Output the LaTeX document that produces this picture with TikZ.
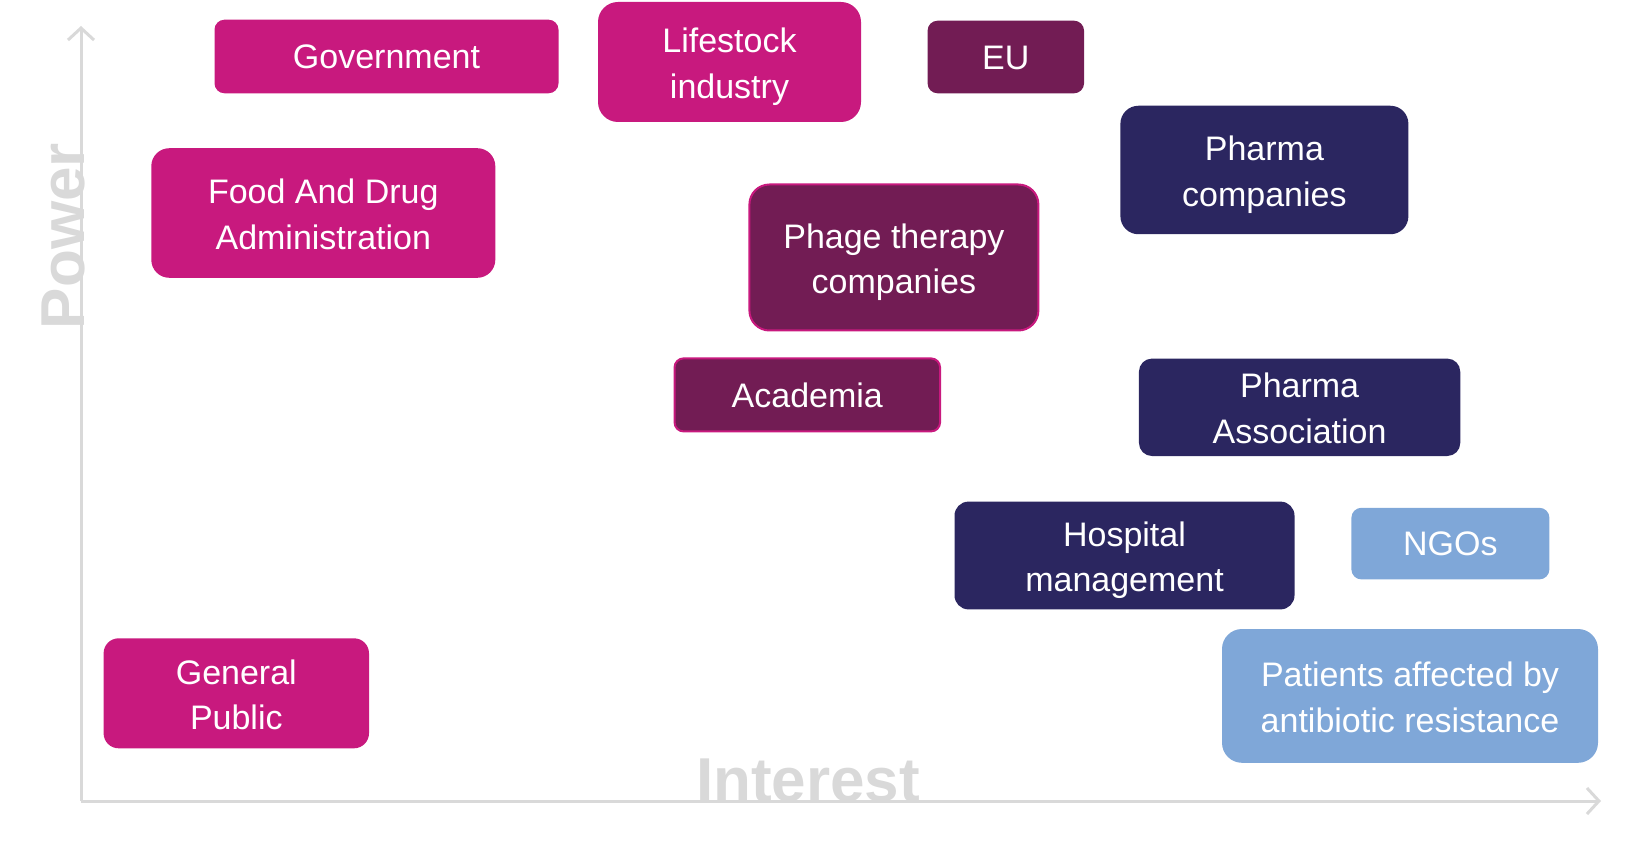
\documentclass[tikz,border=0pt]{standalone}
\usepackage{fontspec}
\setmainfont{Liberation Sans}
\usetikzlibrary{arrows.meta}
\definecolor{mag}{HTML}{C8197E}
\definecolor{plum}{HTML}{721C54}
\definecolor{navy}{HTML}{2B2660}
\definecolor{lblue}{HTML}{7FA7D8}
\definecolor{axisgray}{HTML}{D9D9D9}
\newcommand\bxone{\rule[-9.4pt]{0pt}{43.4pt}}
\newcommand\bxtop{\rule{0pt}{34pt}}
\newcommand\bxbot{\rule[-7pt]{0pt}{7pt}}
\tikzset{
  box/.style={text=white, align=center, inner sep=0pt,
    font=\fontsize{34}{45.6}\selectfont},
  magbox/.style={box, fill=mag},
  plumbox/.style={box, fill=plum},
  plumborder/.style={box, fill=plum, draw=mag, line width=2pt},
  navybox/.style={box, fill=navy},
  bluebox/.style={box, fill=lblue},
  axis/.style={draw=axisgray, line width=3pt, -{Straight Barb[length=12pt, width=26pt, line width=3pt]}},
  axislabel/.style={text=axisgray, font=\bfseries\fontsize{62}{62}\selectfont, inner sep=0pt}
}
\begin{document}
\begin{tikzpicture}[x=1pt,y=-1pt]
\useasboundingbox (0,0) rectangle (1625,858);
% axes
\coordinate (origin) at (81,801);
\coordinate (ytop) at (81,26);
\coordinate (xend) at (1601,801);
\node[axislabel, rotate=90, anchor=base] (power) at (84,236) {Power};
\node[axislabel, anchor=base] (interest) at (808,801) {Interest};
\draw[axis] (origin) -- (ytop);
\draw[axis] (origin) -- (xend);
% stakeholders
\node[magbox, minimum width=344pt, minimum height=73.6pt, rounded corners=10pt] (gov) at (386.5,56.5) {\bxone Government};
\node[magbox, minimum width=263pt, minimum height=120pt, rounded corners=20pt] (live) at (729.5,62) {\bxtop Lifestock\\industry\bxbot};
\node[plumbox, minimum width=156.5pt, minimum height=72.6pt, rounded corners=10pt] (eu) at (1005.8,57) {\bxone EU};
\node[magbox, minimum width=344pt, minimum height=129.6pt, rounded corners=18pt] (fda) at (323.3,213) {\bxtop Food And Drug\\Administration\bxbot};
\node[plumborder, minimum width=289pt, minimum height=146pt, rounded corners=20pt] (phage) at (893.9,257.5) {\bxtop Phage therapy\\companies\bxbot};
\node[navybox, minimum width=288pt, minimum height=128.5pt, rounded corners=18pt] (pharma) at (1264.4,170) {\bxtop Pharma\\companies\bxbot};
\node[plumborder, minimum width=265.5pt, minimum height=73pt, rounded corners=9pt] (acad) at (807.3,394.9) {\bxone Academia};
\node[navybox, minimum width=321.3pt, minimum height=97.4pt, rounded corners=13pt] (assoc) at (1299.6,407.3) {\bxtop Pharma\\Association\bxbot};
\node[navybox, minimum width=340pt, minimum height=107.8pt, rounded corners=14pt] (hosp) at (1124.5,555.5) {\bxtop Hospital\\management\bxbot};
\node[bluebox, minimum width=198pt, minimum height=71.6pt, rounded corners=10pt] (ngo) at (1450.4,543.6) {\bxone NGOs};
\node[magbox, minimum width=265.4pt, minimum height=110pt, rounded corners=15pt] (pub) at (236.3,693.3) {\bxtop General\\Public\bxbot};
\node[bluebox, minimum width=376pt, minimum height=133.8pt, rounded corners=20pt] (pat) at (1410,695.9) {\bxtop Patients affected by\\antibiotic resistance\bxbot};
\end{tikzpicture}
\end{document}
